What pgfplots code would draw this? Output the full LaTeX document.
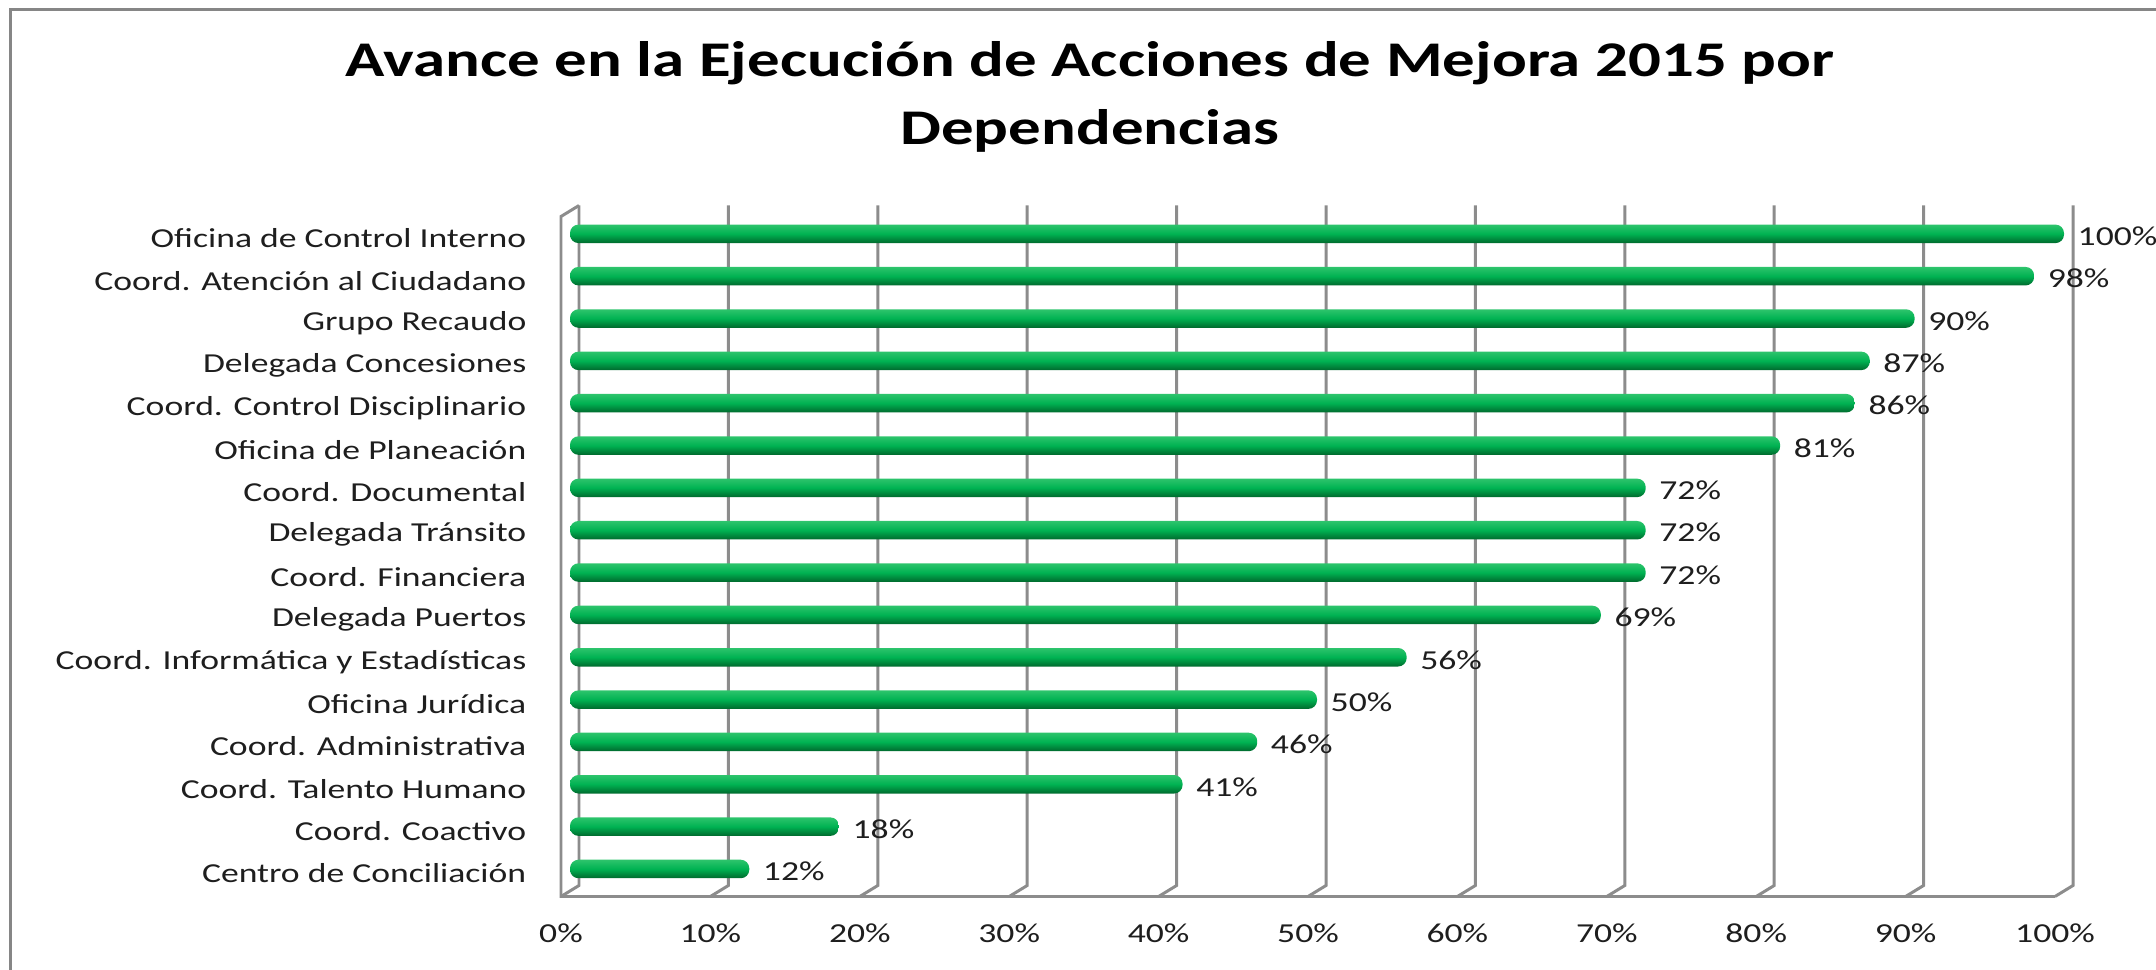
\documentclass[border=0pt]{standalone}
\usepackage{pgfplots}
\pgfplotsset{compat=1.18}
\usepackage{fontspec}
\setmainfont{Carlito}[FakeStretch=1.3]
\definecolor{barmid}{RGB}{0,178,82}
\definecolor{bartop}{RGB}{45,196,108}
\definecolor{barbot}{RGB}{0,105,45}
\definecolor{gridc}{RGB}{140,140,140}
\definecolor{borderc}{RGB}{134,134,134}
\definecolor{txt}{RGB}{30,30,30}
\pgfplotsset{mybar/.style={xbar, bar shift=0pt, bar width=1.85mm, draw=none, top color=bartop, bottom color=barbot, middle color=barmid, rounded corners=0.85mm}}
\begin{document}
\begin{tikzpicture}
\useasboundingbox (0,0) rectangle (215.6mm,97mm);
\draw[borderc, line width=0.85pt] (1.05mm,-1mm) -- (1.05mm,96.05mm) -- (217mm,96.05mm);
\node[anchor=base, font=\fontsize{14.2}{16}\selectfont\bfseries] at (109mm,89.3mm) {Avance en la Ejecución de Acciones de Mejora 2015 por};
\node[anchor=base, font=\fontsize{14.2}{16}\selectfont\bfseries] at (109mm,82.5mm) {Dependencias};
\begin{axis}[
  at={(57mm,7.9mm)}, anchor=south west,
  scale only axis, width=149.4mm, height=68mm,
  xmin=0, xmax=100, ymin=-0.52, ymax=15.54,
  clip=false,
  axis line style={draw=none},
  tick style={draw=none},
  major tick length=0pt,
  xtick={0,10,20,30,40,50,60,70,80,90,100},
  xticklabels={0\%,10\%,20\%,30\%,40\%,50\%,60\%,70\%,80\%,90\%,100\%},
  xticklabel style={anchor=center, xshift=-0.9mm, yshift=-4.2mm, font=\fontsize{7.8}{9}\selectfont, text=txt},
  ytick={0,1,2,3,4,5,6,7,8,9,10,11,12,13,14,15},
  yticklabels={Centro de Conciliación,Coord. Coactivo,Coord. Talento Humano,Coord. Administrativa,Oficina Jurídica,Coord. Informática y Estadísticas,Delegada Puertos,Coord. Financiera,Delegada Tránsito,Coord. Documental\ ,Oficina de Planeación,Coord. Control Disciplinario,Delegada Concesiones\ ,Grupo Recaudo,Coord. Atención al Ciudadano,Oficina de Control Interno},
  yticklabel style={anchor=east, inner sep=0pt, xshift=-4.3mm, yshift=-0.45mm, font=\fontsize{7.8}{9}\selectfont, text=txt},
  point meta=x,
  nodes near coords={\pgfmathprintnumber[assume math mode=true]{\pgfplotspointmeta}\%},
  nodes near coords style={anchor=west, inner sep=0pt, xshift=1.3mm, yshift=-0.25mm, font=\fontsize{7.8}{9}\selectfont, text=txt},
]
\pgfplotsinvokeforeach{0,10,20,30,40,50,60,70,80,90,100}{
  \draw[gridc, line width=0.85pt] ([shift={(-0.9mm,-0.55mm)}]axis cs:#1,-0.52) -- ([shift={(0.9mm,0.55mm)}]axis cs:#1,-0.52) -- ([shift={(0.9mm,0.55mm)}]axis cs:#1,15.54);
}
\draw[gridc, line width=0.85pt] ([shift={(-0.9mm,-0.55mm)}]axis cs:100,-0.52) -- ([shift={(-0.9mm,-0.55mm)}]axis cs:0,-0.52) -- ([shift={(-0.9mm,-0.55mm)}]axis cs:0,15.54) -- ([shift={(0.9mm,0.55mm)}]axis cs:0,15.54);
\addplot[mybar] coordinates {(12,0)};
\addplot[mybar] coordinates {(18,1)};
\addplot[mybar] coordinates {(41,2)};
\addplot[mybar] coordinates {(46,3)};
\addplot[mybar] coordinates {(50,4)};
\addplot[mybar] coordinates {(56,5)};
\addplot[mybar] coordinates {(69,6)};
\addplot[mybar] coordinates {(72,7)};
\addplot[mybar] coordinates {(72,8)};
\addplot[mybar] coordinates {(72,9)};
\addplot[mybar] coordinates {(81,10)};
\addplot[mybar] coordinates {(86,11)};
\addplot[mybar] coordinates {(87,12)};
\addplot[mybar] coordinates {(90,13)};
\addplot[mybar] coordinates {(98,14)};
\addplot[mybar] coordinates {(100,15)};
\end{axis}
\end{tikzpicture}
\end{document}
